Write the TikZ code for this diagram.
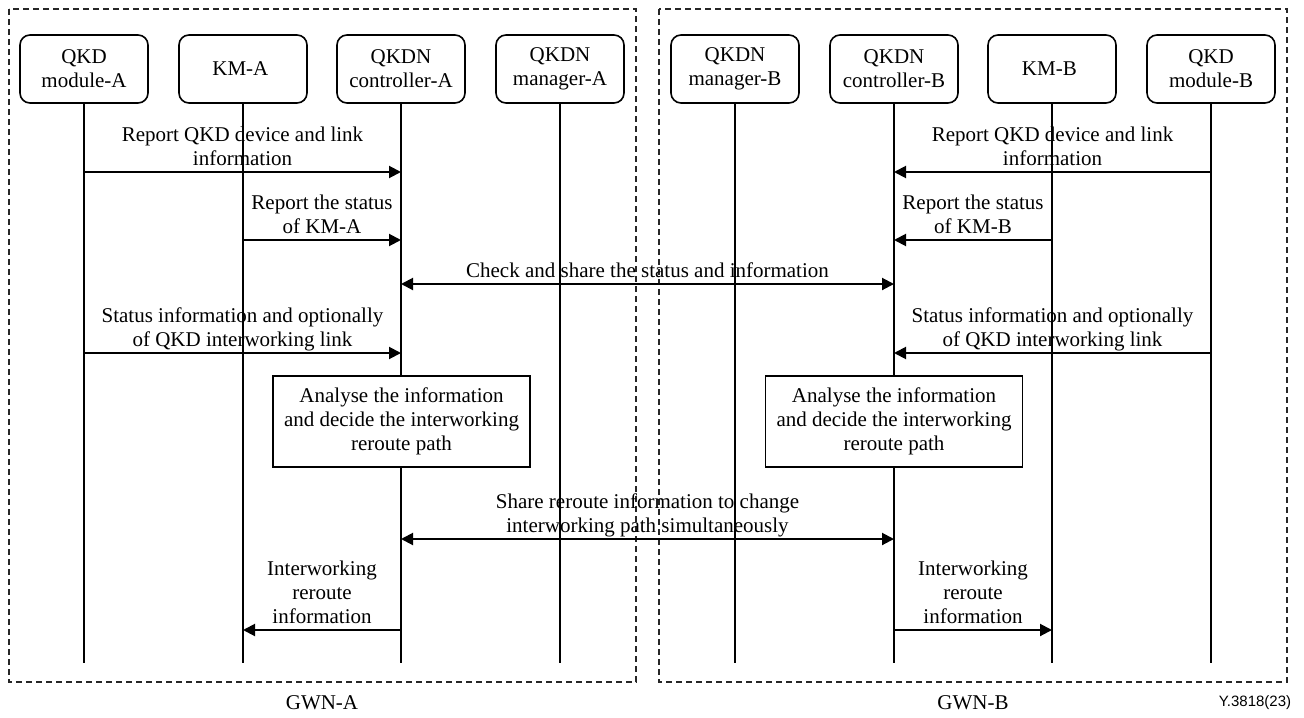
\documentclass[tikz,border=0pt]{standalone}
\usepackage{fontspec}
\setmainfont{Liberation Serif}
\newfontfamily\figfont{Liberation Sans}
\usetikzlibrary{arrows.meta,positioning}

\begin{document}
\begin{tikzpicture}[x=0.5pt, y=-0.5pt,
    every node/.style={
        inner sep=2pt,
        align=center,
        font=\fontsize{10.5}{12}\selectfont
    },
    head/.style={
        rectangle,
        rounded corners=5pt,
        draw,
        line width=0.8pt,
        minimum width=64pt,
        minimum height=34pt
    },
    task/.style={
        rectangle,
        draw,
        fill=white,
        line width=0.8pt,
        minimum width=128.5pt,
        minimum height=45.5pt
    },
    note/.style={midway, above=3pt, inner sep=0pt, text depth=0pt},
    lifeline/.style={line width=0.7pt},
    msg/.style={line width=1pt, -{Triangle[length=6pt,width=6pt]}},
    dmsg/.style={line width=1pt, {Triangle[length=6pt,width=6pt]}-{Triangle[length=6pt,width=6pt]}},
    zone/.style={line width=0.7pt, black!85, dash pattern=on 3pt off 2pt}
]
    \useasboundingbox (0,0) rectangle (1304,717);

    % gateway areas
    \draw[zone] (9,9) rectangle (636,682);
    \draw[zone] (659,9) rectangle (1287,682);
    \node (gwn_a) [shift={(322,703)}] {GWN-A};
    \node (gwn_b) [shift={(973,703)}] {GWN-B};
    \node (fig_id) [shift={(1255,703)}, font=\figfont\fontsize{7.5}{8}\selectfont] {Y.3818(23)};

    % side A
    \node (qkd_module_a) [head, shift={(84,69)}]
    {
        QKD\\module-A
    };
    \node (km_a) [head, shift={(243,69)}]
    {
        KM-A
    };
    \node (qkdn_controller_a) [head, shift={(401,69)}]
    {
        QKDN\\controller-A
    };
    \node (qkdn_manager_a) [head, shift={(560,69)}]
    {
        QKDN\\manager-A
    };

    % side B
    \node (qkdn_manager_b) [head, shift={(735,69)}]
    {
        QKDN\\manager-B
    };
    \node (qkdn_controller_b) [head, shift={(894,69)}]
    {
        QKDN\\controller-B
    };
    \node (km_b) [head, shift={(1052,69)}]
    {
        KM-B
    };
    \node (qkd_module_b) [head, shift={(1211,69)}]
    {
        QKD\\module-B
    };

    % message rows
    \coordinate (row_1) at (0,172);
    \coordinate (row_2) at (0,240);
    \coordinate (row_3) at (0,284);
    \coordinate (row_4) at (0,353);
    \coordinate (row_5) at (0,539);
    \coordinate (row_6) at (0,630);
    \coordinate (life_end) at (0,663);

    % lifelines
    \foreach \n in {qkd_module_a, km_a, qkdn_controller_a, qkdn_manager_a,
                    qkdn_manager_b, qkdn_controller_b, km_b, qkd_module_b}
        \draw[lifeline] (\n) -- (\n |- life_end);

    \node (analyse_a) [task, shift={(401.5,421.5)}]
    {
        Analyse the information\\and decide the interworking\\reroute path
    };
    \node (analyse_b) [task, shift={(894,421.5)}]
    {
        Analyse the information\\and decide the interworking\\reroute path
    };

    \draw[msg] (qkd_module_a |- row_1) -- node[note] {Report QKD device and link\\information} (qkdn_controller_a |- row_1);
    \draw[msg] (km_a |- row_2) -- node[note] {Report the status\\of KM-A} (qkdn_controller_a |- row_2);
    \draw[msg] (qkd_module_a |- row_4) -- node[note] {Status information and optionally\\of QKD interworking link} (qkdn_controller_a |- row_4);
    \draw[msg] (qkdn_controller_a |- row_6) -- node[note] {Interworking\\reroute\\information} (km_a |- row_6);

    \draw[msg] (qkd_module_b |- row_1) -- node[note] {Report QKD device and link\\information} (qkdn_controller_b |- row_1);
    \draw[msg] (km_b |- row_2) -- node[note] {Report the status\\of KM-B} (qkdn_controller_b |- row_2);
    \draw[msg] (qkd_module_b |- row_4) -- node[note] {Status information and optionally\\of QKD interworking link} (qkdn_controller_b |- row_4);
    \draw[msg] (qkdn_controller_b |- row_6) -- node[note] {Interworking\\reroute\\information} (km_b |- row_6);

    \draw[dmsg] (qkdn_controller_a |- row_3) -- node[note] {Check and share the status and information} (qkdn_controller_b |- row_3);
    \draw[dmsg] (qkdn_controller_a |- row_5) -- node[note] {Share reroute information to change\\interworking path simultaneously} (qkdn_controller_b |- row_5);

\end{tikzpicture}
\end{document}
